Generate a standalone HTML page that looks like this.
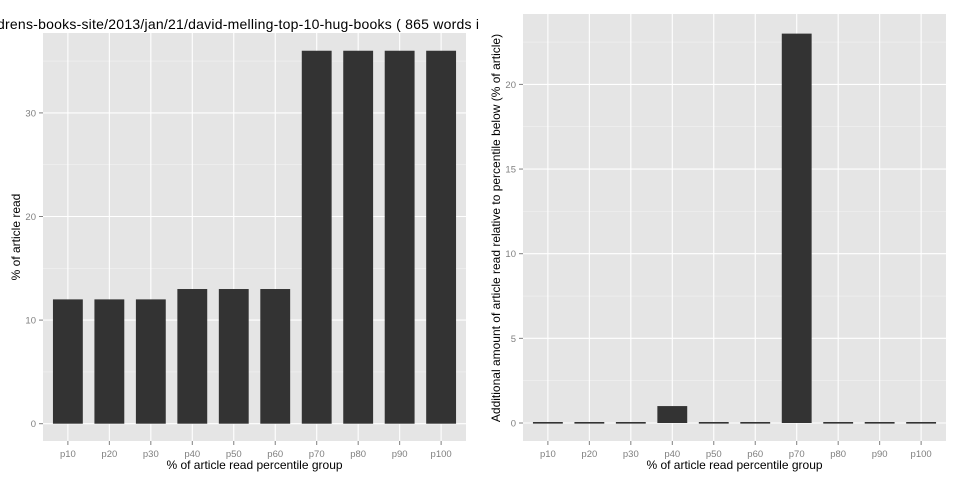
<!DOCTYPE html>
<html><head><meta charset="utf-8"><style>
body{margin:0;background:#fff}
svg{display:block;font-family:"Liberation Sans",Arial,sans-serif}
</style></head><body>
<svg id="c" width="960" height="480"></svg>
<script>
const categories=["p10","p20","p30","p40","p50","p60","p70","p80","p90","p100"];
const leftValues=[12,12,12,13,13,13,36,36,36,36];
const rightValues=[0,0,0,1,0,0,23,0,0,0];
const leftTicks=[0,10,20,30];
const rightTicks=[0,5,10,15,20];
const NS="http://www.w3.org/2000/svg";
const svg=document.getElementById('c');
function mk(t,a,p){const e=document.createElementNS(NS,t);for(const k in a)e.setAttribute(k,a[k]);(p||svg).appendChild(e);return e;}
function panel(o){
  const g=mk('g',{});
  
  
  const bg=mk('rect',{x:o.x0,y:o.y0,width:o.x1-o.x0,height:o.y1-o.y0,fill:'#e5e5e5'},g);
  
  
  const ys=v=>o.zeroY-(v-0)*o.pxPer;
  const step=(o.x1-o.x0)/(categories.length+0.2);
  const xs=i=>o.x0+step*(0.6+i);
  for(let i=0;i<o.ticks.length;i++){const v=o.ticks[i]+(o.ticks[1]-o.ticks[0])/2;const y=ys(v);if(y>o.y0)mk('line',{x1:o.x0,x2:o.x1,y1:y,y2:y,stroke:'#f2f2f2','stroke-width':0.6},g);}
  o.ticks.forEach(t=>{const y=ys(t);mk('line',{x1:o.x0,x2:o.x1,y1:y,y2:y,stroke:'#fff','stroke-width':1.1},g);
    mk('line',{x1:o.x0-4,x2:o.x0,y1:y,y2:y,stroke:'#7f7f7f'},g);
    const tl=mk('text',{x:o.x0-7,y:y+3.5,'text-anchor':'end','font-size':9.5,fill:'#7f7f7f'},g);tl.textContent=t;
    
    });
  categories.forEach((c,i)=>{const x=xs(i);mk('line',{x1:x,x2:x,y1:o.y0,y2:o.y1,stroke:'#fff','stroke-width':1.1},g);
    mk('line',{x1:x,x2:x,y1:o.y1,y2:o.y1+4,stroke:'#7f7f7f'},g);
    const tl=mk('text',{x:x,y:o.y1+16,'text-anchor':'middle','font-size':9.5,fill:'#7f7f7f'},g);tl.textContent=c;
    
    });
  const bw=step*0.72;
  o.values.forEach((v,i)=>{const y=ys(v);const r=mk('rect',{x:xs(i)-bw/2,y:v===0?o.zeroY-1:Math.min(y,o.zeroY),width:bw,height:v===0?1.6:Math.abs(o.zeroY-y),fill:'#333'},g);
    
    });
  const xt=mk('text',{x:(o.x0+o.x1)/2,y:o.y1+28,'text-anchor':'middle','font-size':12,fill:'#000'},g);xt.textContent='% of article read percentile group';
  
  
  const yt=mk('text',{transform:`translate(${o.ytx},${o.yty}) rotate(-90)`,'text-anchor':'middle','font-size':12,fill:'#000'},g);yt.textContent=o.ytitle;
  
  
}
panel({name:'left-panel',x0:43,x1:466,y0:33,y1:441,zeroY:423.7,pxPer:10.36,ticks:leftTicks,values:leftValues,ytitle:'% of article read',ytx:20,yty:237});
panel({name:'right-panel',x0:523,x1:946,y0:14,y1:441,zeroY:423,pxPer:16.93,ticks:rightTicks,values:rightValues,ytitle:'Additional amount of article read relative to percentile below (% of article)',ytx:500,yty:228});
const t=mk('text',{x:-3,y:29,'font-size':14,fill:'#000'});t.textContent='drens-books-site/2013/jan/21/david-melling-top-10-hug-books ( 865 words in';


t.setAttribute('textLength','490');
mk('rect',{x:480,y:0,width:8,height:40,fill:'#fff'});
</script>
</body></html>
